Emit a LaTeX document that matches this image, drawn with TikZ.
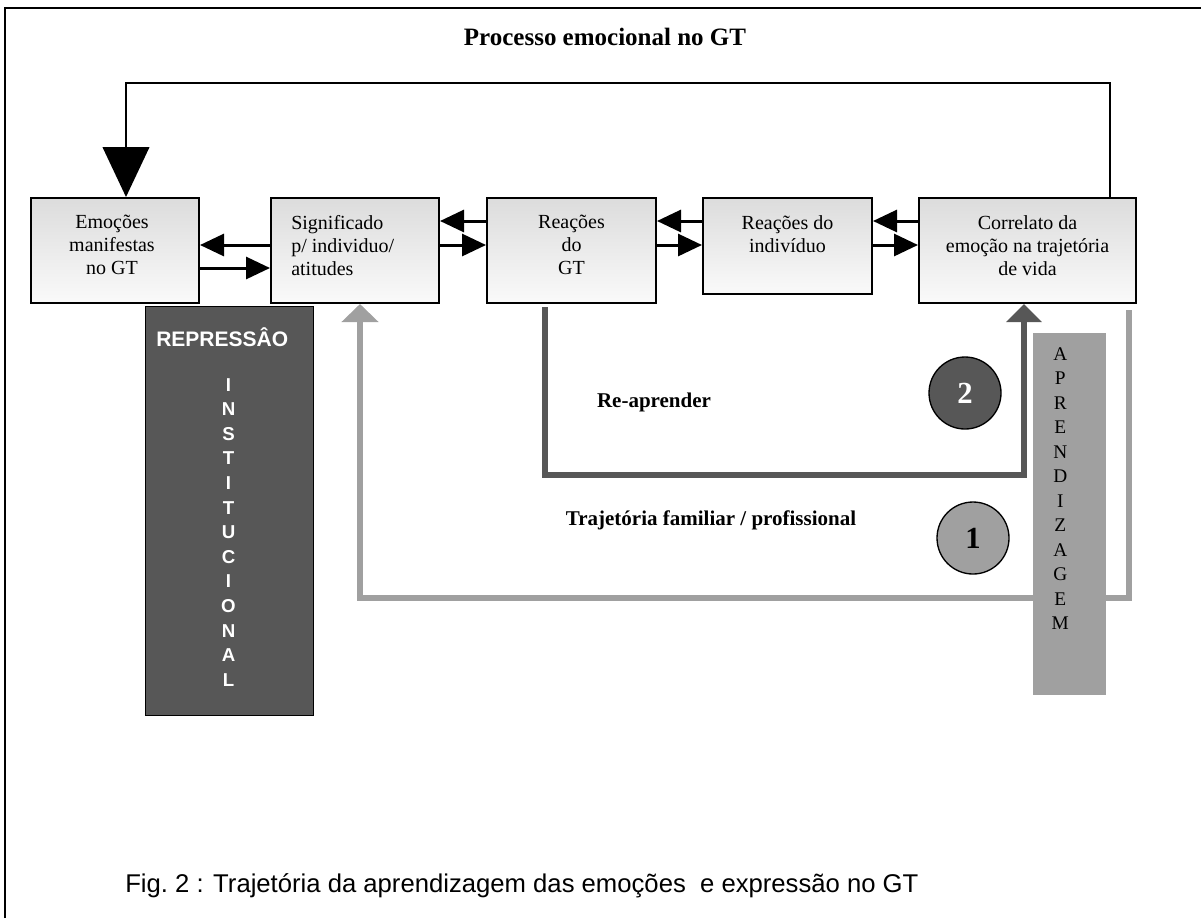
\documentclass[tikz,border=0pt]{standalone}
\usepackage{fontspec}
\setmainfont{Liberation Serif}
\setsansfont{Liberation Sans}
\usepackage{tikz}
\usetikzlibrary{calc,arrows.meta}
\definecolor{darkfill}{HTML}{575757}
\definecolor{lightfill}{HTML}{A0A0A0}
\definecolor{boxtop}{HTML}{DCDCDC}
\definecolor{boxbottom}{HTML}{FAFAFA}
\tikzset{
  % --- process boxes (top row) ---
  procbox/.style={draw=black, line width=1.5pt, top color=boxtop,
                  bottom color=boxbottom, anchor=north west, inner sep=0pt},
  boxtext/.style={font=\fontsize{15}{17.25}\selectfont, align=center,
                  anchor=north, inner sep=0pt, execute at begin node=\strut},
  % --- connectors ---
  flow/.style={line width=2.25pt, -{Triangle[length=18pt,width=16.5pt]}},
  loopflow/.style={line width=1.5pt, -{Triangle[length=37.5pt,width=35pt]}},
  darkpath/.style={line width=4.5pt, draw=darkfill,
                   -{Triangle[length=13.5pt,width=26pt]}},
  lightpath/.style={line width=4.5pt, draw=lightfill,
                    -{Triangle[length=13.5pt,width=27pt]}},
  % --- side bars, circles, labels ---
  sidebar/.style={anchor=north west, inner sep=0pt},
  vertsans/.style={font=\sffamily\bfseries\fontsize{14}{18.45}\selectfont,
                   text=white, align=center, anchor=north, inner sep=0pt,
                   execute at begin node=\strut},
  vertserif/.style={font=\fontsize{14.5}{18.4}\selectfont, align=center,
                    anchor=north, inner sep=0pt, execute at begin node=\strut},
  stepcircle/.style={circle, draw=black, line width=1pt, minimum size=54pt,
                     inner sep=0pt, font=\bfseries\fontsize{23}{23}\selectfont},
  pathlabel/.style={font=\bfseries\fontsize{15.75}{18}\selectfont,
                    anchor=base, inner sep=0pt},
}

\begin{document}
\begin{tikzpicture}[x=0.75pt,y=-0.75pt]
  \useasboundingbox (0,0) rectangle (1201,918);
  % frame
  \draw[line width=2pt] (5,918) -- (5,8) -- (1201,8);
  \node[font=\bfseries\fontsize{18.75}{22}\selectfont, anchor=base, inner sep=0pt]
    (title) at (605,45) {Processo emocional no GT};

  % boxes
  \node[procbox, minimum width=126pt, minimum height=78.75pt] (emo) at (30,197) {};
  \node[procbox, minimum width=126pt, minimum height=78.75pt] (sig) at (270,197) {};
  \node[procbox, minimum width=126.75pt, minimum height=78.75pt] (reacgt) at (486,197) {};
  \node[procbox, minimum width=126.75pt, minimum height=72pt] (reacind) at (702,197) {};
  \node[procbox, minimum width=162.75pt, minimum height=78.75pt] (corr) at (918,197) {};

  \node[boxtext] at ($(emo.north)+(-3,18)$) {Emoções\\manifestas\\no GT};
  \node[boxtext, align=left, anchor=north west] at ($(sig.north west)+(21,18)$)
    {Significado\\p/ individuo/\\atitudes};
  \node[boxtext] at ($(reacgt.north)+(0,18)$) {Reações\\do\\GT};
  \node[boxtext] at ($(reacind.north)+(0,18)$) {Reações do\\indivíduo};
  \node[boxtext] at ($(corr.north)+(0,18)$) {Correlato da\\emoção na trajetória\\de vida};

  % arrows between boxes
  \coordinate (rowA) at (0,221);
  \coordinate (rowB) at (0,245);
  \coordinate (rowC) at (0,268);
  \draw[flow] (sig.west |- rowB) -- (emo.east |- rowB);
  \draw[flow] (emo.east |- rowC) -- (sig.west |- rowC);
  \foreach \l/\r in {sig/reacgt, reacgt/reacind, reacind/corr} {
    \draw[flow] (\r.west |- rowA) -- (\l.east |- rowA);
    \draw[flow] (\l.east |- rowB) -- (\r.west |- rowB);
  }

  % feedback loop on top
  \coordinate (loopR) at (1110,83);
  \coordinate (loopL) at (126,83);
  \draw[loopflow] (corr.north -| loopR) -- (loopR) -- (loopL) -- (emo.north -| loopL);

  % trajectory 1 (light) and 2 (dark)
  \coordinate (lstart) at (1129,310);
  \coordinate (lturn) at (360,598);
  \draw[lightpath] (lstart) |- (lturn) -- (sig.south -| lturn);
  \coordinate (dstart) at (545,307);
  \coordinate (dturn) at (1024,475);
  \draw[darkpath] (dstart) |- (dturn) -- (corr.south -| dturn);

  \node[pathlabel] (reapr) at (654,407) {Re-aprender};
  \node[pathlabel] (traj) at (711,525) {Trajetória familiar / profissional};
  \node[stepcircle, fill=darkfill, text=white] (two) at (965,393) {2};
  \node[stepcircle, fill=lightfill] (one) at (973,538) {1};

  % side bars
  \node[sidebar, draw=black, line width=0.75pt, fill=darkfill,
        minimum width=126pt, minimum height=306.75pt] (rep) at (145,306) {};
  \node[font=\sffamily\bfseries\fontsize{15.75}{18}\selectfont, text=white,
        anchor=base west, inner sep=0pt] (reptitle) at ($(rep.north west)+(11,40)$) {REPRESSÂO};
  \node[vertsans] (inst) at ($(rep.north)+(-1,72)$) {I\\N\\S\\T\\I\\T\\U\\C\\I\\O\\N\\A\\L};

  \node[sidebar, fill=lightfill, minimum width=54.75pt, minimum height=271.5pt]
    (apr) at (1033,333) {};
  \node[vertserif] (aprtext) at ($(apr.north)+(-9.5,14)$) {A\\P\\R\\E\\N\\D\\I\\Z\\A\\G\\E\\M};

  % caption
  \node[font=\sffamily\fontsize{19.25}{22}\selectfont, anchor=base west, inner sep=0pt]
    (caption) at (125,892) {Fig.\ 2 : Trajetória da aprendizagem das emoções\ \ e expressão no GT};
\end{tikzpicture}
\end{document}
